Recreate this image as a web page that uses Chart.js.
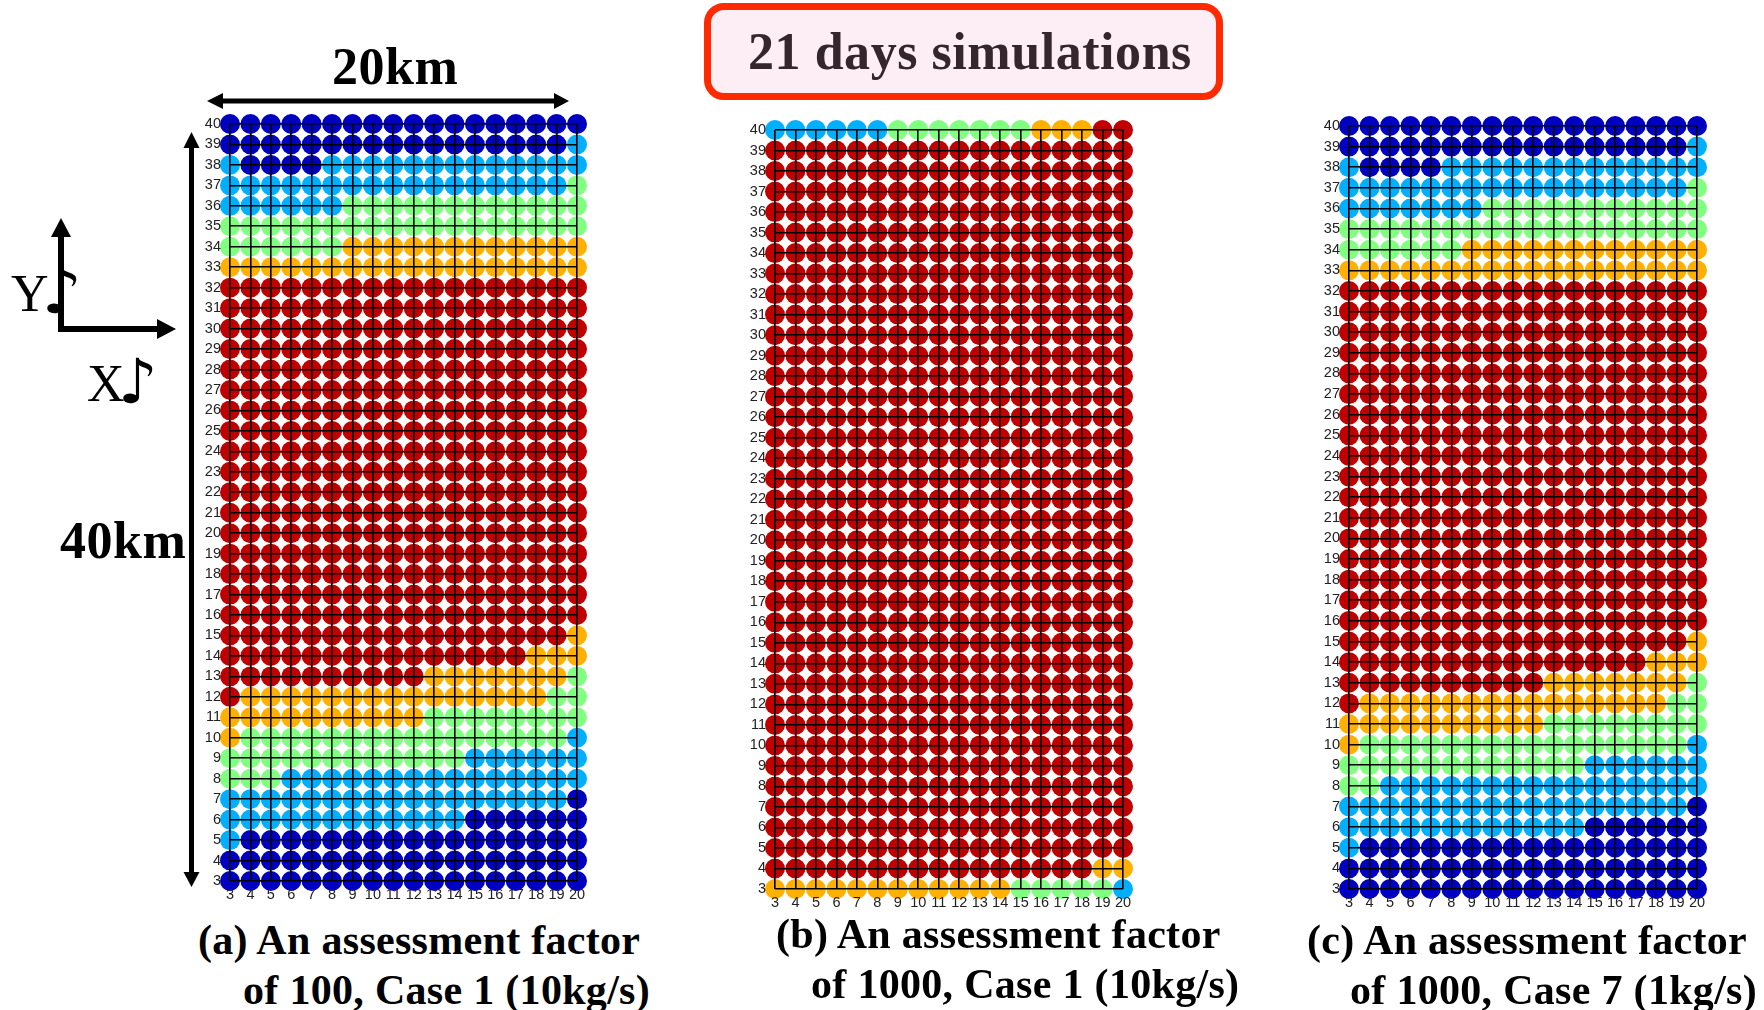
<!DOCTYPE html>
<html>
<head>
<meta charset="utf-8">
<title>21 days simulations</title>
<script src="https://cdn.jsdelivr.net/npm/chart.js@4/dist/chart.umd.min.js"></script>
<style>
    html, body { margin: 0; padding: 0; background: #fff; }
    #page { position: relative; width: 1764px; height: 1010px; overflow: hidden; }
    #page canvas { position: absolute; }
    #arrows { position: absolute; left: 0; top: 0; }
    .txt {
        position: absolute;
        white-space: pre;
        font-family: "Liberation Serif", serif;
        line-height: 1;
        color: #000;
    }
    .bold { font-weight: bold; }
    .caption { font-size: 42px; font-weight: bold; letter-spacing: 0.3px; }
    .axis { font-size: 52px; }
    .note { font-family: "DejaVu Sans", sans-serif; font-size: 62px; }
    #titleBox {
        position: absolute;
        left: 704px; top: 3px; width: 505px; height: 83px;
        border: 7px solid #ff2a00;
        border-radius: 20px;
        background: #fdeef6;
    }
</style>
</head>
<body>
<div id="page">
    <div id="titleBox"></div>
    <svg id="arrows" width="1764" height="1010">
        <!-- 20km -->
        <line x1="220" y1="101" x2="557" y2="101" stroke="#000" stroke-width="5"/>
        <polygon points="207,101 223,93 223,109" fill="#000"/>
        <polygon points="569,101 554,93 554,109" fill="#000"/>
        <!-- 40km -->
        <line x1="191.5" y1="145" x2="191.5" y2="875" stroke="#000" stroke-width="5"/>
        <polygon points="191.5,132 183.5,148 199.5,148" fill="#000"/>
        <polygon points="191.5,887 183.5,872 199.5,872" fill="#000"/>
        <!-- X / Y directions -->
        <line x1="61" y1="235" x2="61" y2="332" stroke="#000" stroke-width="6"/>
        <polygon points="61,218 51,237 71,237" fill="#000"/>
        <line x1="58" y1="329" x2="160" y2="329" stroke="#000" stroke-width="6"/>
        <polygon points="176,329 157,319 157,339" fill="#000"/>
    </svg>

    <canvas id="chartA"></canvas>
    <canvas id="chartB"></canvas>
    <canvas id="chartC"></canvas>

    <div class="txt bold" style="left:332px;top:41px;font-size:52px;letter-spacing:0.5px;">20km</div>
    <div class="txt bold" style="left:60px;top:515px;font-size:52px;letter-spacing:0.5px;">40km</div>
    <div class="txt axis" style="left:11px;top:268px;">Y</div>
    <div class="txt note" style="left:42px;top:261px;">♪</div>
    <div class="txt axis" style="left:87px;top:358px;">X</div>
    <div class="txt note" style="left:118px;top:351px;">♪</div>
    <div class="txt bold" style="left:748px;top:26px;font-size:52px;letter-spacing:0.55px;color:#35252d;">21 days simulations</div>

    <div class="txt caption" style="left:198px;top:919px;">(a) An assessment factor</div>
    <div class="txt caption" style="left:243px;top:969px;">of 100, Case 1 (10kg/s)</div>
    <div class="txt caption" style="left:776px;top:913px;">(b) An assessment factor</div>
    <div class="txt caption" style="left:811px;top:963px;">of 1000, Case 1 (10kg/s)</div>
    <div class="txt caption" style="left:1307px;top:919px;">(c) An assessment factor</div>
    <div class="txt caption" style="left:1350px;top:969px;">of 1000, Case 7 (1kg/s)</div>
</div>

<script>
// Grid axes
const xValues = [3, 4, 5, 6, 7, 8, 9, 10, 11, 12, 13, 14, 15, 16, 17, 18, 19, 20];
const yValues = [40, 39, 38, 37, 36, 35, 34, 33, 32, 31, 30, 29, 28, 27, 26, 25, 24, 23, 22,
    21, 20, 19, 18, 17, 16, 15, 14, 13, 12, 11, 10, 9, 8, 7, 6, 5, 4, 3];

// Colour class of each cell, 0 (dark blue) to 4 (dark red)
const levelColors = ['#0000c0', '#00b0ff', '#80ff80', '#ffb000', '#c00000'];

// One string per row from y=40 down to y=3, one digit per x from 3 to 20
const caseA = [
    '000000000000000000',
    '000000000000000001',
    '100001111111111111',
    '111111111111111112',
    '111111222222222222',
    '222222222222222222',
    '222222333333333333',
    '333333333333333333',
    '444444444444444444',
    '444444444444444444',
    '444444444444444444',
    '444444444444444444',
    '444444444444444444',
    '444444444444444444',
    '444444444444444444',
    '444444444444444444',
    '444444444444444444',
    '444444444444444444',
    '444444444444444444',
    '444444444444444444',
    '444444444444444444',
    '444444444444444444',
    '444444444444444444',
    '444444444444444444',
    '444444444444444444',
    '444444444444444443',
    '444444444444444333',
    '444444444433333332',
    '433333333333333322',
    '333333333322222222',
    '322222222222222221',
    '222222222222111111',
    '222111111111111111',
    '111111111111111110',
    '111111111111000000',
    '100000000000000000',
    '000000000000000000',
    '000000000000000000'
];

const caseB = [
    '111111222222233344',
    '444444444444444444',
    '444444444444444444',
    '444444444444444444',
    '444444444444444444',
    '444444444444444444',
    '444444444444444444',
    '444444444444444444',
    '444444444444444444',
    '444444444444444444',
    '444444444444444444',
    '444444444444444444',
    '444444444444444444',
    '444444444444444444',
    '444444444444444444',
    '444444444444444444',
    '444444444444444444',
    '444444444444444444',
    '444444444444444444',
    '444444444444444444',
    '444444444444444444',
    '444444444444444444',
    '444444444444444444',
    '444444444444444444',
    '444444444444444444',
    '444444444444444444',
    '444444444444444444',
    '444444444444444444',
    '444444444444444444',
    '444444444444444444',
    '444444444444444444',
    '444444444444444444',
    '444444444444444444',
    '444444444444444444',
    '444444444444444444',
    '444444444444444444',
    '444444444444444433',
    '333333333333222221'
];

const caseC = [
    '000000000000000000',
    '000000000000000001',
    '100001111111111111',
    '111111111111111112',
    '111111122222222222',
    '222222222222222222',
    '222222333333333333',
    '333333333333333333',
    '444444444444444444',
    '444444444444444444',
    '444444444444444444',
    '444444444444444444',
    '444444444444444444',
    '444444444444444444',
    '444444444444444444',
    '444444444444444444',
    '444444444444444444',
    '444444444444444444',
    '444444444444444444',
    '444444444444444444',
    '444444444444444444',
    '444444444444444444',
    '444444444444444444',
    '444444444444444444',
    '444444444444444444',
    '444444444444444443',
    '444444444444444333',
    '444444444433333332',
    '433333333333333322',
    '333333333322222222',
    '322222222222222221',
    '222222222222111111',
    '221111111111111111',
    '111111111111111110',
    '111111111111000000',
    '100000000000000000',
    '000000000000000000',
    '000000000000000000'
];

const AXIS_W = 30;
const AXIS_H = 30;
const PAD = 20;

function drawPanel(id, rows, left, top, width, height) {
    const canvas = document.getElementById(id);
    canvas.width = width + AXIS_W + PAD;
    canvas.height = height + AXIS_H + PAD;
    canvas.style.left = (left - AXIS_W) + 'px';
    canvas.style.top = (top - PAD) + 'px';
    canvas.style.width = canvas.width + 'px';
    canvas.style.height = canvas.height + 'px';

    const points = [];
    const colors = [];
    rows.forEach((row, r) => {
        xValues.forEach((x, c) => {
            points.push({ x: x, y: yValues[r] });
            colors.push(levelColors[Number(row[c])]);
        });
    });

    return new Chart(canvas.getContext('2d'), {
        type: 'scatter',
        data: {
            datasets: [{
                data: points,
                pointBackgroundColor: colors,
                pointBorderWidth: 0,
                pointRadius: 10,
                pointHoverRadius: 10,
                clip: false
            }]
        },
        options: {
            responsive: false,
            animation: false,
            layout: { padding: { top: PAD, right: PAD, left: 0, bottom: 0 } },
            plugins: { legend: { display: false }, tooltip: { enabled: false } },
            scales: {
                x: {
                    type: 'linear',
                    min: xValues[0],
                    max: xValues[xValues.length - 1],
                    afterFit: s => { s.height = AXIS_H; s.paddingLeft = 0; s.paddingRight = 0; },
                    border: { display: false },
                    grid: { color: '#000', lineWidth: 1.6, z: 1, drawTicks: false },
                    ticks: {
                        stepSize: 1,
                        autoSkip: false,
                        maxRotation: 0,
                        padding: 5,
                        z: 1,
                        color: '#222',
                        font: { family: 'Liberation Sans', size: 14.5 }
                    }
                },
                y: {
                    type: 'linear',
                    min: yValues[yValues.length - 1],
                    max: yValues[0],
                    afterFit: s => { s.width = AXIS_W; s.paddingTop = 0; s.paddingBottom = 0; },
                    border: { display: false },
                    grid: { color: '#000', lineWidth: 1.6, z: 1, drawTicks: false },
                    ticks: {
                        stepSize: 1,
                        autoSkip: false,
                        padding: 9,
                        z: 1,
                        color: '#222',
                        font: { family: 'Liberation Sans', size: 14.5 }
                    }
                }
            }
        }
    });
}

drawPanel('chartA', caseA, 230, 124, 347, 757);
drawPanel('chartB', caseB, 775, 130, 348, 759);
drawPanel('chartC', caseC, 1349, 126, 348, 763);
</script>
</body>
</html>
